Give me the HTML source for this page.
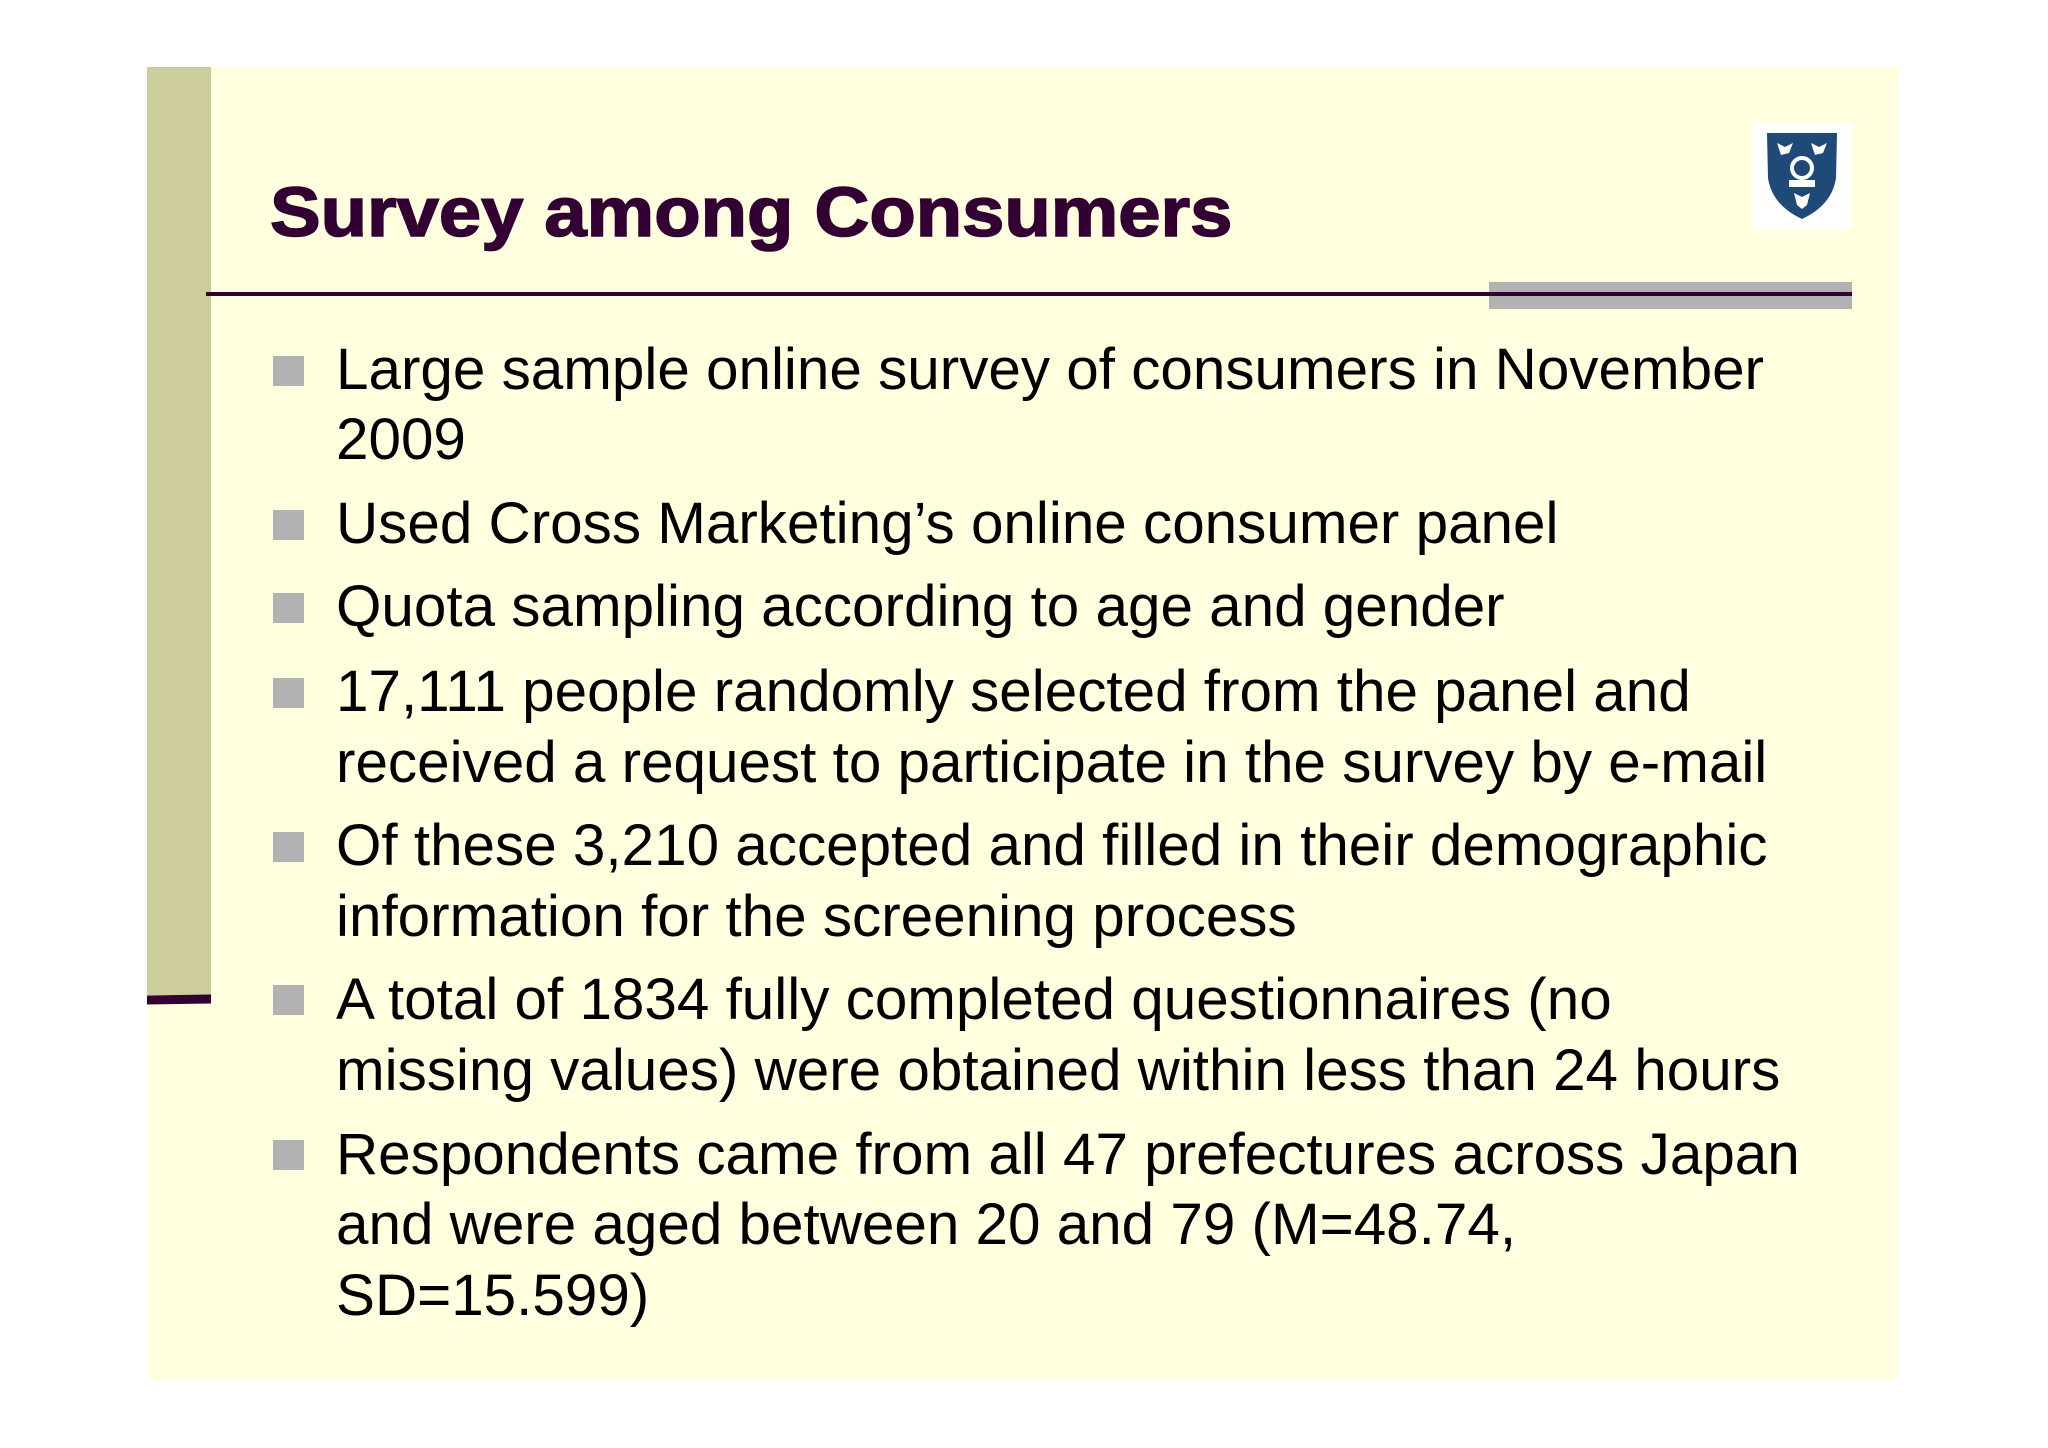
<!DOCTYPE html>
<html><head><meta charset="utf-8">
<style>
html,body{margin:0;padding:0;background:#fff;}
body{width:2048px;height:1448px;position:relative;overflow:hidden;font-family:"Liberation Sans",Arial,sans-serif;}
#slide{position:absolute;left:148px;top:67px;width:1750px;height:1313px;background:#ffffe0;}
.abs{position:absolute;}
.line{position:absolute;left:336px;font-size:58.4px;line-height:70px;height:70px;color:#000;white-space:nowrap;}
.sq{position:absolute;left:273px;width:31px;height:30px;background:#b2b2b2;}
</style></head>
<body>
<div id="slide"></div>
<div class="abs" style="left:147px;top:67px;width:64px;height:928px;background:#cccc9c;"></div>
<div class="abs" style="left:147px;top:995px;width:64px;height:9px;background:#330033;transform:skewY(-1deg);"></div>
<div class="abs" style="left:270px;top:172px;font-size:70px;line-height:80px;font-weight:bold;color:#330033;white-space:nowrap;transform:scaleX(1.085);transform-origin:left center;-webkit-text-stroke:1.6px #330033;">Survey among Consumers</div>
<div class="abs" style="left:1489px;top:282px;width:363px;height:27px;background:#b2b2b2;"></div>
<div class="abs" style="left:206px;top:292px;width:1646px;height:4px;background:#330033;"></div>
<div class="abs" style="left:1752px;top:123px;width:100px;height:106px;background:#fff;">
<svg width="100" height="106" viewBox="0 0 100 106">
<path d="M15 10 L85 10 L84 55 Q80 82 50 96 Q20 82 16 55 Z" fill="#1f4a78"/>
<circle cx="50" cy="45" r="10" fill="none" stroke="#fff" stroke-width="4"/>
<rect x="37" y="57" width="26" height="7" fill="#fff"/>
<path d="M25 20 l8 4 l8 -4 l-4 10 l-8 2 z" fill="#fff"/>
<path d="M59 20 l8 4 l8 -4 l-4 10 l-8 2 z" fill="#fff"/>
<path d="M42 70 l8 4 l8 -4 l-3 12 l-5 4 l-5 -4 z" fill="#fff"/>
</svg></div>

<div class="sq" style="top:356px;"></div>
<div class="line" style="top:335px;">Large sample online survey of consumers in November</div>
<div class="line" style="top:405px;">2009</div>

<div class="sq" style="top:510px;"></div>
<div class="line" style="top:489px;">Used Cross Marketing’s online consumer panel</div>

<div class="sq" style="top:593px;"></div>
<div class="line" style="top:572px;">Quota sampling according to age and gender</div>

<div class="sq" style="top:678px;"></div>
<div class="line" style="top:657px;">17,111 people randomly selected from the panel and</div>
<div class="line" style="top:728px;">received a request to participate in the survey by e-mail</div>

<div class="sq" style="top:832px;"></div>
<div class="line" style="top:811px;">Of these 3,210 accepted and filled in their demographic</div>
<div class="line" style="top:882px;">information for the screening process</div>

<div class="sq" style="top:985px;"></div>
<div class="line" style="top:965px;">A total of 1834 fully completed questionnaires (no</div>
<div class="line" style="top:1036px;">missing values) were obtained within less than 24 hours</div>

<div class="sq" style="top:1140px;"></div>
<div class="line" style="top:1120px;">Respondents came from all 47 prefectures across Japan</div>
<div class="line" style="top:1190px;">and were aged between 20 and 79 (M=48.74,</div>
<div class="line" style="top:1261px;">SD=15.599)</div>
</body></html>
